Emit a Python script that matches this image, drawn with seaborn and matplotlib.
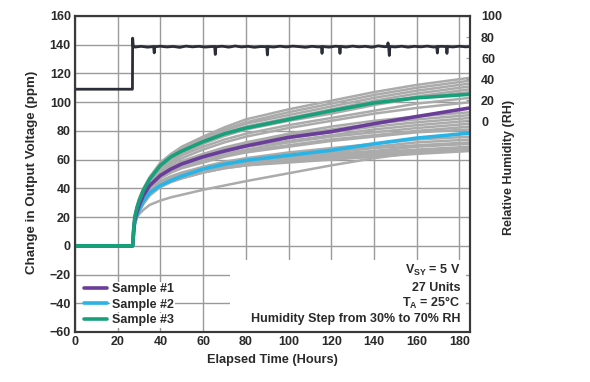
import matplotlib
matplotlib.use("Agg")
import matplotlib.pyplot as plt
from matplotlib.lines import Line2D
from matplotlib.patches import Rectangle
import seaborn as sns
import pandas as pd

# ---------------- data ----------------
time_pts = [0, 27, 27.5, 28, 29, 30, 32, 35, 40, 45, 50, 60, 70, 80, 100, 120, 140, 160, 185]

sample1 = [0, 0, 11, 18, 23.5, 28, 35, 42, 49, 53.5, 57, 62, 66, 69.5, 75.5, 79.5, 85, 90, 96]
sample2 = [0, 0, 10, 17, 21.5, 25, 31, 37, 42, 45.5, 48.5, 53.5, 56.8, 59.5, 63, 66.5, 71, 75, 78.5]
sample3 = [0, 0, 12, 20, 26.5, 31, 38.5, 46.5, 56, 62, 66, 72.5, 78, 82, 88, 94, 99.5, 103, 105.5]

gray_units = [
    [0, 0, 12, 21, 27.5, 33, 40, 48, 58, 64, 69, 76, 82.5, 88, 95, 101, 107, 112, 117],
    [0, 0, 12, 21, 27, 32, 39, 47, 57, 63, 68, 75, 81, 86, 93, 99, 105, 110, 115],
    [0, 0, 12, 20, 26.5, 32, 39, 47, 56, 62, 67, 74, 80, 85, 91, 97, 103, 108, 113],
    [0, 0, 12, 20, 26, 31, 38, 46, 55, 61, 66, 73, 78.5, 83, 89, 95, 101, 106, 111],
    [0, 0, 12, 20, 26, 31, 38, 46, 55, 60.5, 65, 72, 77.5, 82, 88, 94, 99, 104, 109],
    [0, 0, 12, 20, 26, 31, 37.5, 45, 54, 59.5, 64, 71, 76.5, 81, 87, 92, 98, 103, 107],
    [0, 0, 11, 20, 25.5, 30, 37, 45, 53, 58.5, 63, 69, 74, 78, 84, 89, 94, 99, 103],
    [0, 0, 11, 19, 25, 30, 36.5, 44, 52, 57, 61, 67, 72, 76, 82, 87, 92, 96, 100],
    [0, 0, 11, 19, 24.5, 29, 35.5, 43, 51, 55.5, 59, 64, 68.5, 72, 78, 83, 87, 90, 93],
    [0, 0, 11, 19, 24.5, 29, 35.5, 43, 50, 54.5, 58, 63, 67.5, 71, 77, 81, 85, 88, 91],
    [0, 0, 11, 19, 24.5, 29, 35, 42, 50, 54, 57, 62, 66.5, 70, 75, 79, 83, 86, 89],
    [0, 0, 11, 18, 23.5, 28, 34.5, 42, 49, 53, 56, 61, 65.5, 69, 73, 77, 81, 84, 87],
    [0, 0, 11, 18, 23.5, 28, 34, 41, 48, 52, 55, 60, 64, 67, 72, 76, 79, 82, 85],
    [0, 0, 11, 18, 23.5, 28, 34, 41, 48, 52, 55, 59, 63, 66, 70, 74, 77, 80, 83],
    [0, 0, 10, 18, 23, 27, 33, 40, 47, 51, 54, 58, 62, 65, 69, 73, 76, 79, 81],
    [0, 0, 10, 17, 22, 26, 32, 39, 45, 48.5, 51, 55, 58.5, 61, 65, 68, 71, 74, 76],
    [0, 0, 10, 17, 22, 26, 31.5, 38, 44, 47.5, 50, 54, 57.5, 60, 63, 66, 69, 72, 74],
    [0, 0, 10, 17, 21.5, 25, 31, 38, 43, 46.5, 49, 53, 56.5, 59, 62, 65, 68, 70, 72],
    [0, 0, 10, 17, 21.5, 25, 30.5, 37, 43, 46.5, 49, 53, 56, 58, 61, 64, 66, 69, 71],
    [0, 0, 10, 16, 21, 25, 30.5, 37, 42, 45.5, 48, 52, 55, 57, 60, 63, 65, 67, 69],
    [0, 0, 10, 16, 20.5, 24, 29.5, 36, 42, 45.5, 48, 52, 55, 57, 60, 62, 64, 66, 68],
    [0, 0, 10, 16, 20.5, 24, 29.5, 36, 41, 44.5, 47, 51, 54, 56, 59, 61, 63, 65, 67],
    [0, 0, 10, 16, 20.5, 24, 29, 35, 41, 44.5, 47, 51, 54, 56, 58, 60, 62, 64, 66],
    [0, 0, 9, 15, 19.5, 22, 25, 28.5, 31.5, 33.8, 35.5, 39, 42, 45, 50.5, 56, 61, 65, 68],
]

hum_time = [0, 26.9, 27.0, 27.3, 28, 31, 34, 36.8, 37.1, 37.4, 40, 43, 46, 49, 52,
            55, 58, 61, 64, 65.4, 65.7, 66.0, 69, 72, 75, 78, 81, 84, 87, 89.8,
            90.1, 90.4, 93, 96, 99, 102, 105, 108, 111, 114, 115.4, 115.7, 116.0,
            119, 122, 123.8, 124.1, 124.4, 127, 130, 133, 136, 139, 142, 145,
            146.3, 146.6, 146.9, 147.2, 147.5, 150, 153, 156, 159, 162, 165, 168,
            169.4, 169.7, 170.0, 172, 173.9, 174.2, 174.5, 177, 180, 183, 185]
hum_rh = [30.5, 30.5, 79, 71, 70.5, 71.2, 70.4, 71, 65, 70.8, 71.3, 70.6, 71.1, 70.2,
          71.4, 70.7, 71.2, 70.5, 71, 71, 63.5, 70.8, 71.3, 70.4, 71.5, 70.6, 71.2,
          70.3, 71, 70.8, 63, 71, 70.5, 71.3, 70.6, 71.4, 70.9, 70.3, 71.2, 70.6,
          70.9, 64.5, 71, 70.4, 71.3, 71, 64.5, 71.1, 70.5, 71.4, 70.7, 71.2, 70.3,
          71.6, 70.8, 71, 74.5, 70.8, 62.5, 71, 70.6, 71.3, 70.4, 71.2, 70.7, 71.4,
          70.5, 70.9, 64.8, 71, 71.2, 70.9, 64.5, 71, 70.6, 71.3, 70.7, 71]

sample_labels = ["Sample #1", "Sample #2", "Sample #3"]
sample_colors = ["#6b3d9a", "#2ab4e6", "#17a07a"]
left_ticks = [-60, -40, -20, 0, 20, 40, 60, 80, 100, 120, 140, 160]
right_ticks = [0, 20, 40, 60, 80, 100]
x_ticks = [0, 20, 40, 60, 80, 100, 120, 140, 160, 180]

# ---------------- build frames ----------------
gray_rows = []
for i, vals in enumerate(gray_units):
    for t, v in zip(time_pts, vals):
        gray_rows.append({"unit": i, "time": t, "ppm": v})
gray_df = pd.DataFrame(gray_rows)

sample_rows = []
for lab, vals in zip(sample_labels, [sample1, sample2, sample3]):
    for t, v in zip(time_pts, vals):
        sample_rows.append({"sample": lab, "time": t, "ppm": v})
sample_df = pd.DataFrame(sample_rows)

hum_df = pd.DataFrame({"time": hum_time, "rh": hum_rh})

# ---------------- style ----------------
sns.set_style("white")
plt.rcParams["font.family"] = ["Liberation Sans", "DejaVu Sans"]
plt.rcParams["font.weight"] = "bold"
plt.rcParams["mathtext.fontset"] = "custom"
plt.rcParams["mathtext.rm"] = "Liberation Sans:bold"
plt.rcParams["mathtext.bf"] = "Liberation Sans:bold"
plt.rcParams["mathtext.it"] = "Liberation Sans:bold"

txt_color = "#2a2a2a"
fig = plt.figure(figsize=(5.9, 3.82), dpi=100)
ax = fig.add_axes([75 / 590, 50 / 382, 395 / 590, 316 / 382])

ax.set_xlim(0, 185)
ax.set_ylim(-60, 160)
ax.set_axisbelow(True)
ax.set_xticks(x_ticks)
ax.set_yticks(left_ticks)
ax.grid(True, color="#9a9a9a", lw=1.0)

# white panel behind annotation block
ax.add_patch(Rectangle((72.7, -60), 183.3 - 72.7, 50, facecolor="white",
                       edgecolor="none", zorder=1))

sns.lineplot(data=gray_df, x="time", y="ppm", units="unit", estimator=None,
             color="#ababab", lw=1.8, legend=False, ax=ax, zorder=2)
sns.lineplot(data=sample_df, x="time", y="ppm", hue="sample",
             palette=dict(zip(sample_labels, sample_colors)),
             hue_order=["Sample #2", "Sample #1", "Sample #3"],
             estimator=None, lw=2.6, legend=False, ax=ax, zorder=3)

for sp in ax.spines.values():
    sp.set_color("#3a3a3a")
    sp.set_linewidth(1.5)
ax.tick_params(axis="both", length=0, labelsize=9, labelcolor=txt_color, pad=3)
ax.set_xlabel("Elapsed Time (Hours)", fontsize=9.2, fontweight="bold",
              color=txt_color, labelpad=4)
ax.set_ylabel("Change in Output Voltage (ppm)", fontsize=9.6, fontweight="bold",
              color=txt_color)
ax.yaxis.set_label_coords(-0.094, 0.505)

# right axis: humidity
ax2 = ax.twinx()
ax2.set_ylim(-200, 100)
ax2.set_yticks(right_ticks)
sns.lineplot(data=hum_df, x="time", y="rh", color="#2b2e38", lw=2.0,
             estimator=None, sort=False, ax=ax2)
ax2.set_xlim(0, 185)
ax2.tick_params(axis="y", direction="in", length=3, color="#9a9a9a",
                labelsize=9, labelcolor=txt_color, pad=8)
ax2.set_ylabel("Relative Humidity (RH)", fontsize=9, fontweight="bold",
               color=txt_color)
ax2.yaxis.set_label_coords(1.084, 0.522)
for sp in ax2.spines.values():
    sp.set_color("#3a3a3a")
    sp.set_linewidth(1.5)

# legend
handles = [Line2D([], [], color=c, lw=2.6) for c in sample_colors]
leg = ax.legend(handles, sample_labels, loc="lower left",
                bbox_to_anchor=(0.022, 0.018), frameon=False, fontsize=9,
                handlelength=1.85, handletextpad=0.4, labelspacing=0.28,
                borderpad=0, borderaxespad=0)
for t in leg.get_texts():
    t.set_color(txt_color)
    t.set_fontweight("bold")
    t.set_bbox(dict(facecolor="white", edgecolor="none", pad=1.0))
leg.set_zorder(5)

# annotation block
notes = [r"V$_{\mathregular{SY}}$ = 5 V", "27 Units", r"T$_{\mathregular{A}}$ = 25°C",
         "Humidity Step from 30% to 70% RH"]
note_y = [-16.9, -29.4, -39.9, -51.0]
for s, yv in zip(notes, note_y):
    ax.text(180.5, yv, s, ha="right", va="center", fontsize=9, fontweight="bold",
            color=txt_color, zorder=5)

fig.savefig("out.png", dpi=100)
